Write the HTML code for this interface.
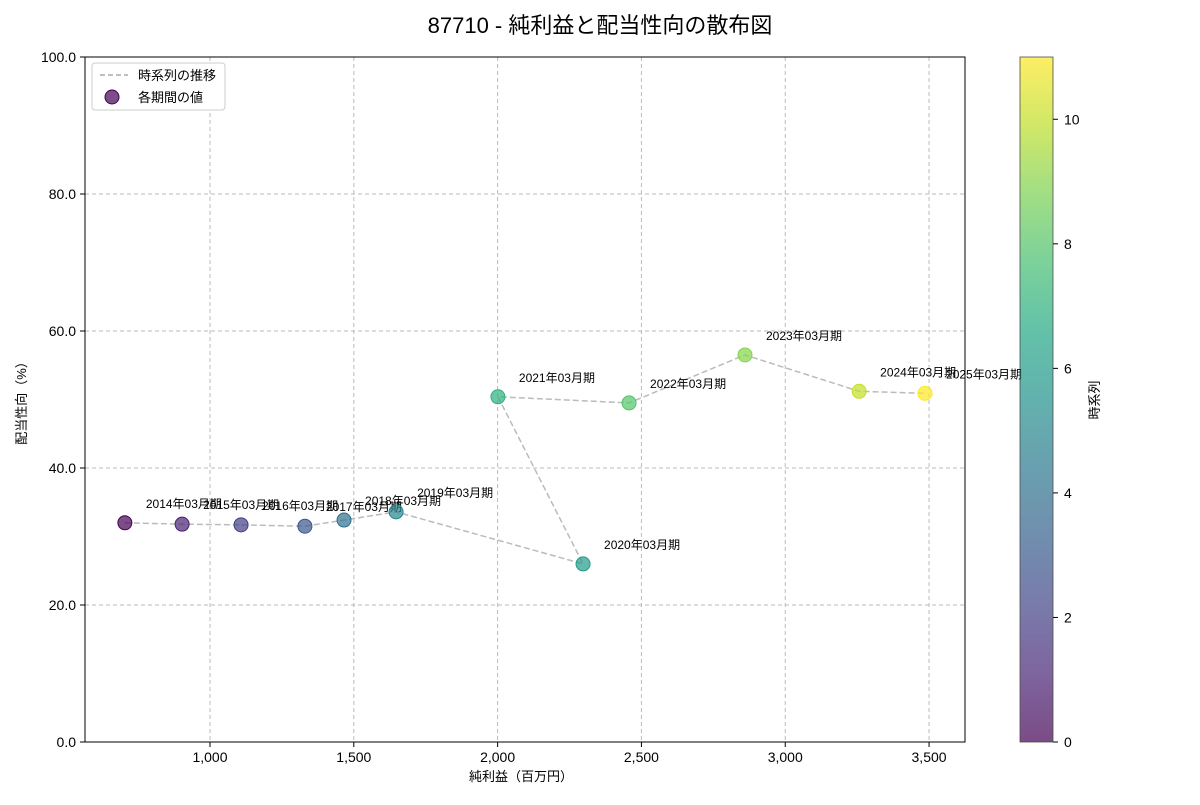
<!DOCTYPE html>
<html><head><meta charset="utf-8"><style>
body{margin:0;background:#fff;font-family:"Liberation Sans","Noto Sans CJK JP",sans-serif}
svg text{font-family:"Liberation Sans","Noto Sans CJK JP",sans-serif}
</style></head><body>
<svg id="chart" width="1200" height="800" xmlns="http://www.w3.org/2000/svg">
<defs><linearGradient id="vir" x1="0" y1="1" x2="0" y2="0">
<stop offset="0" stop-color="#440154"/><stop offset="0.1" stop-color="#482475"/><stop offset="0.2" stop-color="#414487"/><stop offset="0.3" stop-color="#355f8d"/><stop offset="0.4" stop-color="#2a788e"/><stop offset="0.5" stop-color="#21918c"/><stop offset="0.6" stop-color="#22a884"/><stop offset="0.7" stop-color="#44bf70"/><stop offset="0.8" stop-color="#7ad151"/><stop offset="0.9" stop-color="#bddf26"/><stop offset="1" stop-color="#fde725"/></linearGradient></defs>
<text x="600" y="33" text-anchor="middle" font-size="22">87710 - 純利益と配当性向の散布図</text>
<g id="grid"></g><g id="axes"></g><g id="marks"></g>
<text x="521" y="781" text-anchor="middle" font-size="13">純利益（百万円）</text>
<text transform="translate(26,400) rotate(-90)" text-anchor="middle" font-size="13">配当性向（%）</text>
<rect x="1020" y="57" width="33" height="685" fill="url(#vir)" opacity="0.7" stroke="#000" stroke-width="0.8"/>
<g id="cbticks"></g>
<text transform="translate(1099,400) rotate(-90)" text-anchor="middle" font-size="13">時系列</text>
<g>
<rect x="92" y="63" width="133" height="47" fill="#fff" stroke="#ccc" rx="3"/>
<line x1="100" y1="75" x2="128" y2="75" stroke="#aaa" stroke-dasharray="5,3" stroke-width="1.5"/>
<text x="138" y="80" font-size="13">時系列の推移</text>
<circle cx="112" cy="97" r="7" fill="#440154" fill-opacity="0.7" stroke="#440154"/>
<text x="138" y="102" font-size="13">各期間の値</text>
</g>
</svg>
<script>
const years=["2014","2015","2016","2017","2018","2019","2020","2021","2022","2023","2024","2025"];
const profit=[704,903,1108,1330,1466,1647,2297,2001,2457,2860,3257,3486];
const payout=[32.0,31.8,31.7,31.5,32.4,33.6,26.0,50.4,49.5,56.5,51.2,50.9];
const xTicks=[1000,1500,2000,2500,3000,3500];
const yTicks=[0,20,40,60,80,100];
const cbTicks=[0,2,4,6,8,10];
const L=85,R=965,T=57,B=742,xmin=565.4,xmax=3625;
const X=v=>L+(v-xmin)/(xmax-xmin)*(R-L);
const Y=v=>B-v/100*(B-T);
const NS="http://www.w3.org/2000/svg";
function mk(tag,attrs,parent,txt){const e=document.createElementNS(NS,tag);for(const k in attrs)e.setAttribute(k,attrs[k]);if(txt!==undefined)e.textContent=txt;document.getElementById(parent).appendChild(e);return e;}
const vir=["#440154","#482475","#414487","#355f8d","#2a788e","#21918c","#22a884","#44bf70","#7ad151","#bddf26","#fde725"];
function col(t){const p=t*10,i=Math.min(9,Math.floor(p));return lerp(vir[i],vir[i+1],p-i);}
function lerp(a,b,f){const h=s=>[1,3,5].map(j=>parseInt(s.substr(j,2),16));const A=h(a),Bc=h(b);return"rgb("+A.map((v,i)=>Math.round(v+(Bc[i]-v)*f)).join(",")+")";}
xTicks.forEach(t=>{const x=X(t);
let g=mk("line",{x1:x,x2:x,y1:T,y2:B,stroke:"#bbb","stroke-dasharray":"4,3"},"grid");
mk("line",{x1:x,x2:x,y1:B,y2:B+5,stroke:"#000"},"axes");
let l=mk("text",{x:x,y:B+20,"text-anchor":"middle","font-size":14},"axes",t.toLocaleString("en-US"));});
yTicks.forEach(t=>{const y=Y(t);
let g=mk("line",{x1:L,x2:R,y1:y,y2:y,stroke:"#bbb","stroke-dasharray":"4,3"},"grid");
mk("line",{x1:L-5,x2:L,y1:y,y2:y,stroke:"#000"},"axes");
let l=mk("text",{x:L-9,y:y+5,"text-anchor":"end","font-size":14},"axes",t.toFixed(1));});
let fr=mk("rect",{x:L,y:T,width:R-L,height:B-T,fill:"none",stroke:"#000","stroke-width":1},"axes");

const pts=profit.map((v,i)=>X(v)+","+Y(payout[i])).join(" ");
let pl=mk("polyline",{points:pts,fill:"none",stroke:"#aaa","stroke-dasharray":"6,3","stroke-width":1.5,opacity:0.8},"marks");

profit.forEach((v,i)=>{const c=col(i/11);
let p=mk("circle",{cx:X(v),cy:Y(payout[i]),r:7,fill:c,"fill-opacity":0.7,stroke:c},"marks");

let l=mk("text",{x:X(v)+21,y:Y(payout[i])-15,"font-size":12},"marks",years[i]+"年03月期");
});
cbTicks.forEach(t=>{const y=B-t/11*(B-T);
mk("line",{x1:1053,x2:1058,y1:y,y2:y,stroke:"#000"},"cbticks");
let l=mk("text",{x:1064,y:y+5,"font-size":14},"cbticks",String(t));});
</script>
</body></html>
